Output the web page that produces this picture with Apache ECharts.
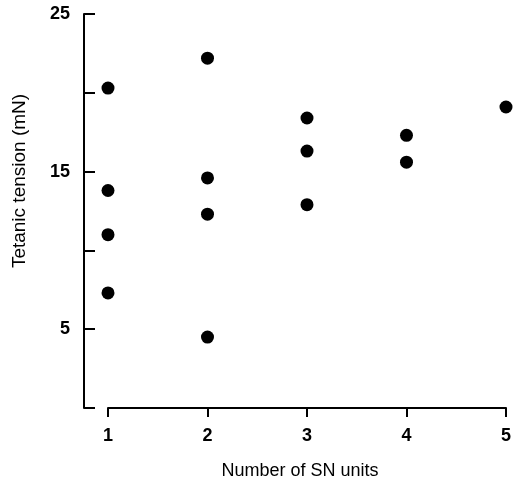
<!DOCTYPE html>
<html>
<head>
<meta charset="utf-8">
<script src="https://cdn.jsdelivr.net/npm/echarts@6/dist/echarts.min.js"></script>
<style>
  html, body { margin: 0; padding: 0; background: #fff; }
  #main { width: 514px; height: 485px; }
</style>
</head>
<body>
<div id="main"></div>
<script>
// number of SN units (x) and tetanic tension in mN (y)
const units   = [1, 1, 1, 1, 2, 2, 2, 2, 3, 3, 3, 4, 4, 5];
const tension = [20.3, 13.8, 11.0, 7.3, 22.2, 14.6, 12.3, 4.5, 18.4, 16.3, 12.9, 17.3, 15.6, 19.1];
const yLabelsShown = [5, 15, 25];

const points = units.map((u, i) => [u, tension[i]]);

const chart = echarts.init(document.getElementById('main'));
const font = 'Liberation Sans, Arial, Helvetica, sans-serif';

const option = {
  animation: false,
  grid: { left: 108, right: 6, top: 14, bottom: 75 },
  xAxis: {
    type: 'value',
    min: 1,
    max: 5,
    interval: 1,
    name: 'Number of SN units',
    nameLocation: 'middle',
    nameGap: 54,
    nameTextStyle: { color: '#000', fontSize: 18, fontFamily: font, padding: [0, 14, 0, 0] },
    axisLine: { show: true, lineStyle: { color: '#000', width: 2 } },
    axisTick: { show: true, inside: false, length: 9, lineStyle: { color: '#000', width: 2 } },
    axisLabel: { color: '#000', fontSize: 18, fontWeight: 'bold', fontFamily: font, margin: 19 },
    splitLine: { show: false }
  },
  yAxis: {
    type: 'value',
    min: 0,
    max: 25,
    interval: 5,
    offset: 24,
    name: 'Tetanic tension (mN)',
    nameLocation: 'middle',
    nameGap: 55,
    nameTextStyle: { color: '#000', fontSize: 19, fontFamily: font, padding: [0, 0, 0, 60] },
    axisLine: { show: true, lineStyle: { color: '#000', width: 2 } },
    axisTick: { show: true, inside: true, length: 11, lineStyle: { color: '#000', width: 2 } },
    axisLabel: {
      color: '#000', fontSize: 18, fontWeight: 'bold', fontFamily: font, margin: 14,
      formatter: v => yLabelsShown.includes(v) ? String(v) : ''
    },
    splitLine: { show: false }
  },
  series: [{
    type: 'scatter',
    data: points,
    symbol: 'circle',
    symbolSize: 13,
    clip: false,
    itemStyle: { color: '#000', opacity: 1 }
  }]
};

chart.setOption(option);
</script>
</body>
</html>
